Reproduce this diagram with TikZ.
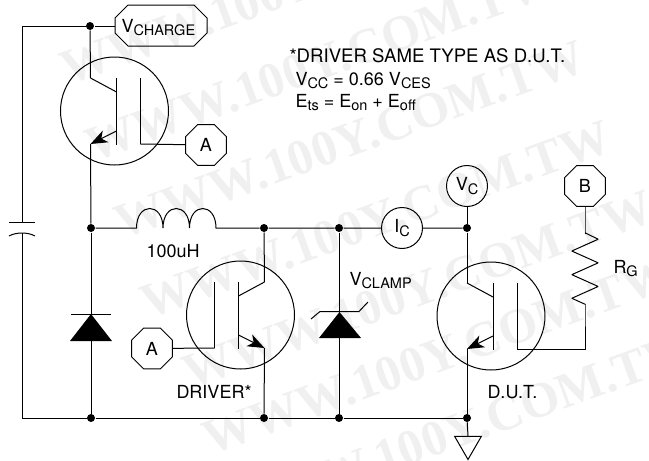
\documentclass[tikz,border=0pt]{standalone}
\usepackage{fontspec}
\setmainfont{TeX Gyre Heros}
\newfontfamily\wmfont{Liberation Serif}
\usepackage[american]{circuitikz}
\usetikzlibrary{shapes.geometric}

\ctikzset{bipoles/thickness = 1}

\newcommand{\lowtxt}[1]{\raisebox{-3.5pt}{\fontsize{14.5}{16}\selectfont #1}}

\tikzset{
	dot/.style = {circle, fill = black, inner sep = 0pt, minimum size = 8pt},
	probe/.style = {circle, draw, inner sep = 0pt, minimum size = 41pt},
	octa/.style = {regular polygon, regular polygon sides = 8, draw, inner sep = 0pt, minimum size = 44pt},
	lbl/.style = {inner sep = 0pt, anchor = base west},
	wmark/.style = {rotate = 20, font = \fontsize{50}{50}\selectfont\wmfont\bfseries, text = black!6},
	pics/igbt/.style = {code = {
		\node[circle, draw, inner sep = 0pt, minimum size = 108pt] (-body) at (0,0) {};
		\coordinate (-c) at (-24,-33);
		\coordinate (-e) at (-24,33);
		\coordinate (-g) at (26,33);
		\draw (-c) -- (2,-19);
		\draw (2,-33) -- (2,34);
		\draw (-g) -- (26,-33);
		\draw[-{Stealth[length = 17pt, width = 13pt, inset = 5pt]}] (2,20) -- (-e);
	}},
}

\begin{document}
\begin{tikzpicture}[x = 1pt, y = -1pt, line width = 1pt, font = \fontsize{18}{20}\selectfont]
	\useasboundingbox (0,0) rectangle (649,461);
	% background lettering
	\foreach \x/\y in {296/-14, 321/63, 350/140, 376/220, 418/290, 438/356, 460/430}
		\node[wmark] at (\x,\y) {WWW.100Y.COM.TW};

	% switches
	\pic (UP) at (114.5,111) {igbt};
	\pic[xscale = -1] (DRV) at (240.5,315) {igbt};
	\pic (DUT) at (491,316) {igbt};

	% probes
	\draw (115,18) -- (128,5) -- (194,5) -- (207,18) -- (207,33) -- (194,46) -- (128,46) -- (115,33) -- cycle;
	\coordinate (VCH) at (115,26);
	\node[octa] (AT) at (206,145) {A};
	\node[octa] (AB) at (152,348.5) {A};
	\node[octa] (B) at (585,186) {B};
	\node[probe] (IC) at (402,228) {I\lowtxt{C}};
	\node[probe] (VC) at (467,186) {V\lowtxt{C}};

	% junctions
	\node[dot] (J1) at (90,26) {};
	\node[dot] (J2) at (91,228) {};
	\node[dot] (J3) at (264,228) {};
	\node[dot] (J4) at (339,228) {};
	\node[dot] (J5) at (467,228) {};
	\node[dot] (J6) at (91,418) {};
	\node[dot] (J7) at (264,418) {};
	\node[dot] (J8) at (339,418) {};
	\node[dot] (J9) at (467,418) {};
	\coordinate (CT) at (22,222);
	\coordinate (CB) at (22,233);
	\coordinate (LA) at (136.5,228);
	\coordinate (LB) at (216,228);

	% wiring
	\draw (VCH) -- (J1) -| (CT);
	\draw (J1) -- (UP-c);
	\draw (UP-e) -- (J2);
	\draw (UP-g) -- (AT);
	\draw (J2) -- (LA) .. controls (136.5,202) and (163,202) .. (163,228) .. controls (163,202) and (189.5,202) .. (189.5,228) .. controls (189.5,202) and (216,202) .. (LB) -- (J3) -- (J4) -- (IC) -- (J5);
	\draw (J3) -- (DRV-c);
	\draw (DRV-e) -- (J7);
	\draw (DRV-g) -- (AB);
	\draw (VC) -- (J5) -- (DUT-c);
	\draw (DUT-e) -- (J9);
	\draw (CB) |- (J6) -- (J7) -- (J8) -- (J9);
	\draw (J2) -- (J6);
	\draw (J4) -- (J8);
	\draw (B) -- ++(0,47) to [american resistor, bipoles/length = 88pt] ++(0,71) |- (DUT-g);

	% capacitor plates
	\draw (9,222) -- (35,222);
	\draw (9,236) .. controls (16,232) and (28,232) .. (35,236);

	% diodes
	\fill (91,314) -- (112,341) -- (70,341) -- cycle;
	\draw (71,314) -- (111,314);
	\fill (339.5,312) -- (361,338) -- (319,338) -- cycle;
	\draw (311,319) -- (320,311.5) -- (359,311.5) -- (368,302);

	% ground
	\node[regular polygon, regular polygon sides = 3, shape border rotate = 180, draw, inner sep = 0pt, minimum size = 31pt] (GND) at (468,444) {};
	\draw (J9) -- (GND.north);

	% labels
	\node[lbl] (LVC) at (121,32) {V\lowtxt{CHARGE}};
	\node[lbl, font = \fontsize{18.6}{20}\selectfont] (L1) at (289,62) {*DRIVER SAME TYPE AS D.U.T.};
	\node[lbl] (L2) at (295,85) {V\lowtxt{CC} = 0.66 V\lowtxt{CES}};
	\node[lbl] (L3) at (295,107) {E\lowtxt{ts} = E\lowtxt{on} + E\lowtxt{off}};
	\node[lbl] (L4) at (146,257) {100uH};
	\node[lbl] (L5) at (176,398) {DRIVER*};
	\node[lbl] (L6) at (349,285) {V\lowtxt{CLAMP}};
	\node[lbl] (L7) at (487,398) {D.U.T.};
	\node[lbl] (L8) at (613,273) {R\lowtxt{G}};
\end{tikzpicture}
\end{document}
